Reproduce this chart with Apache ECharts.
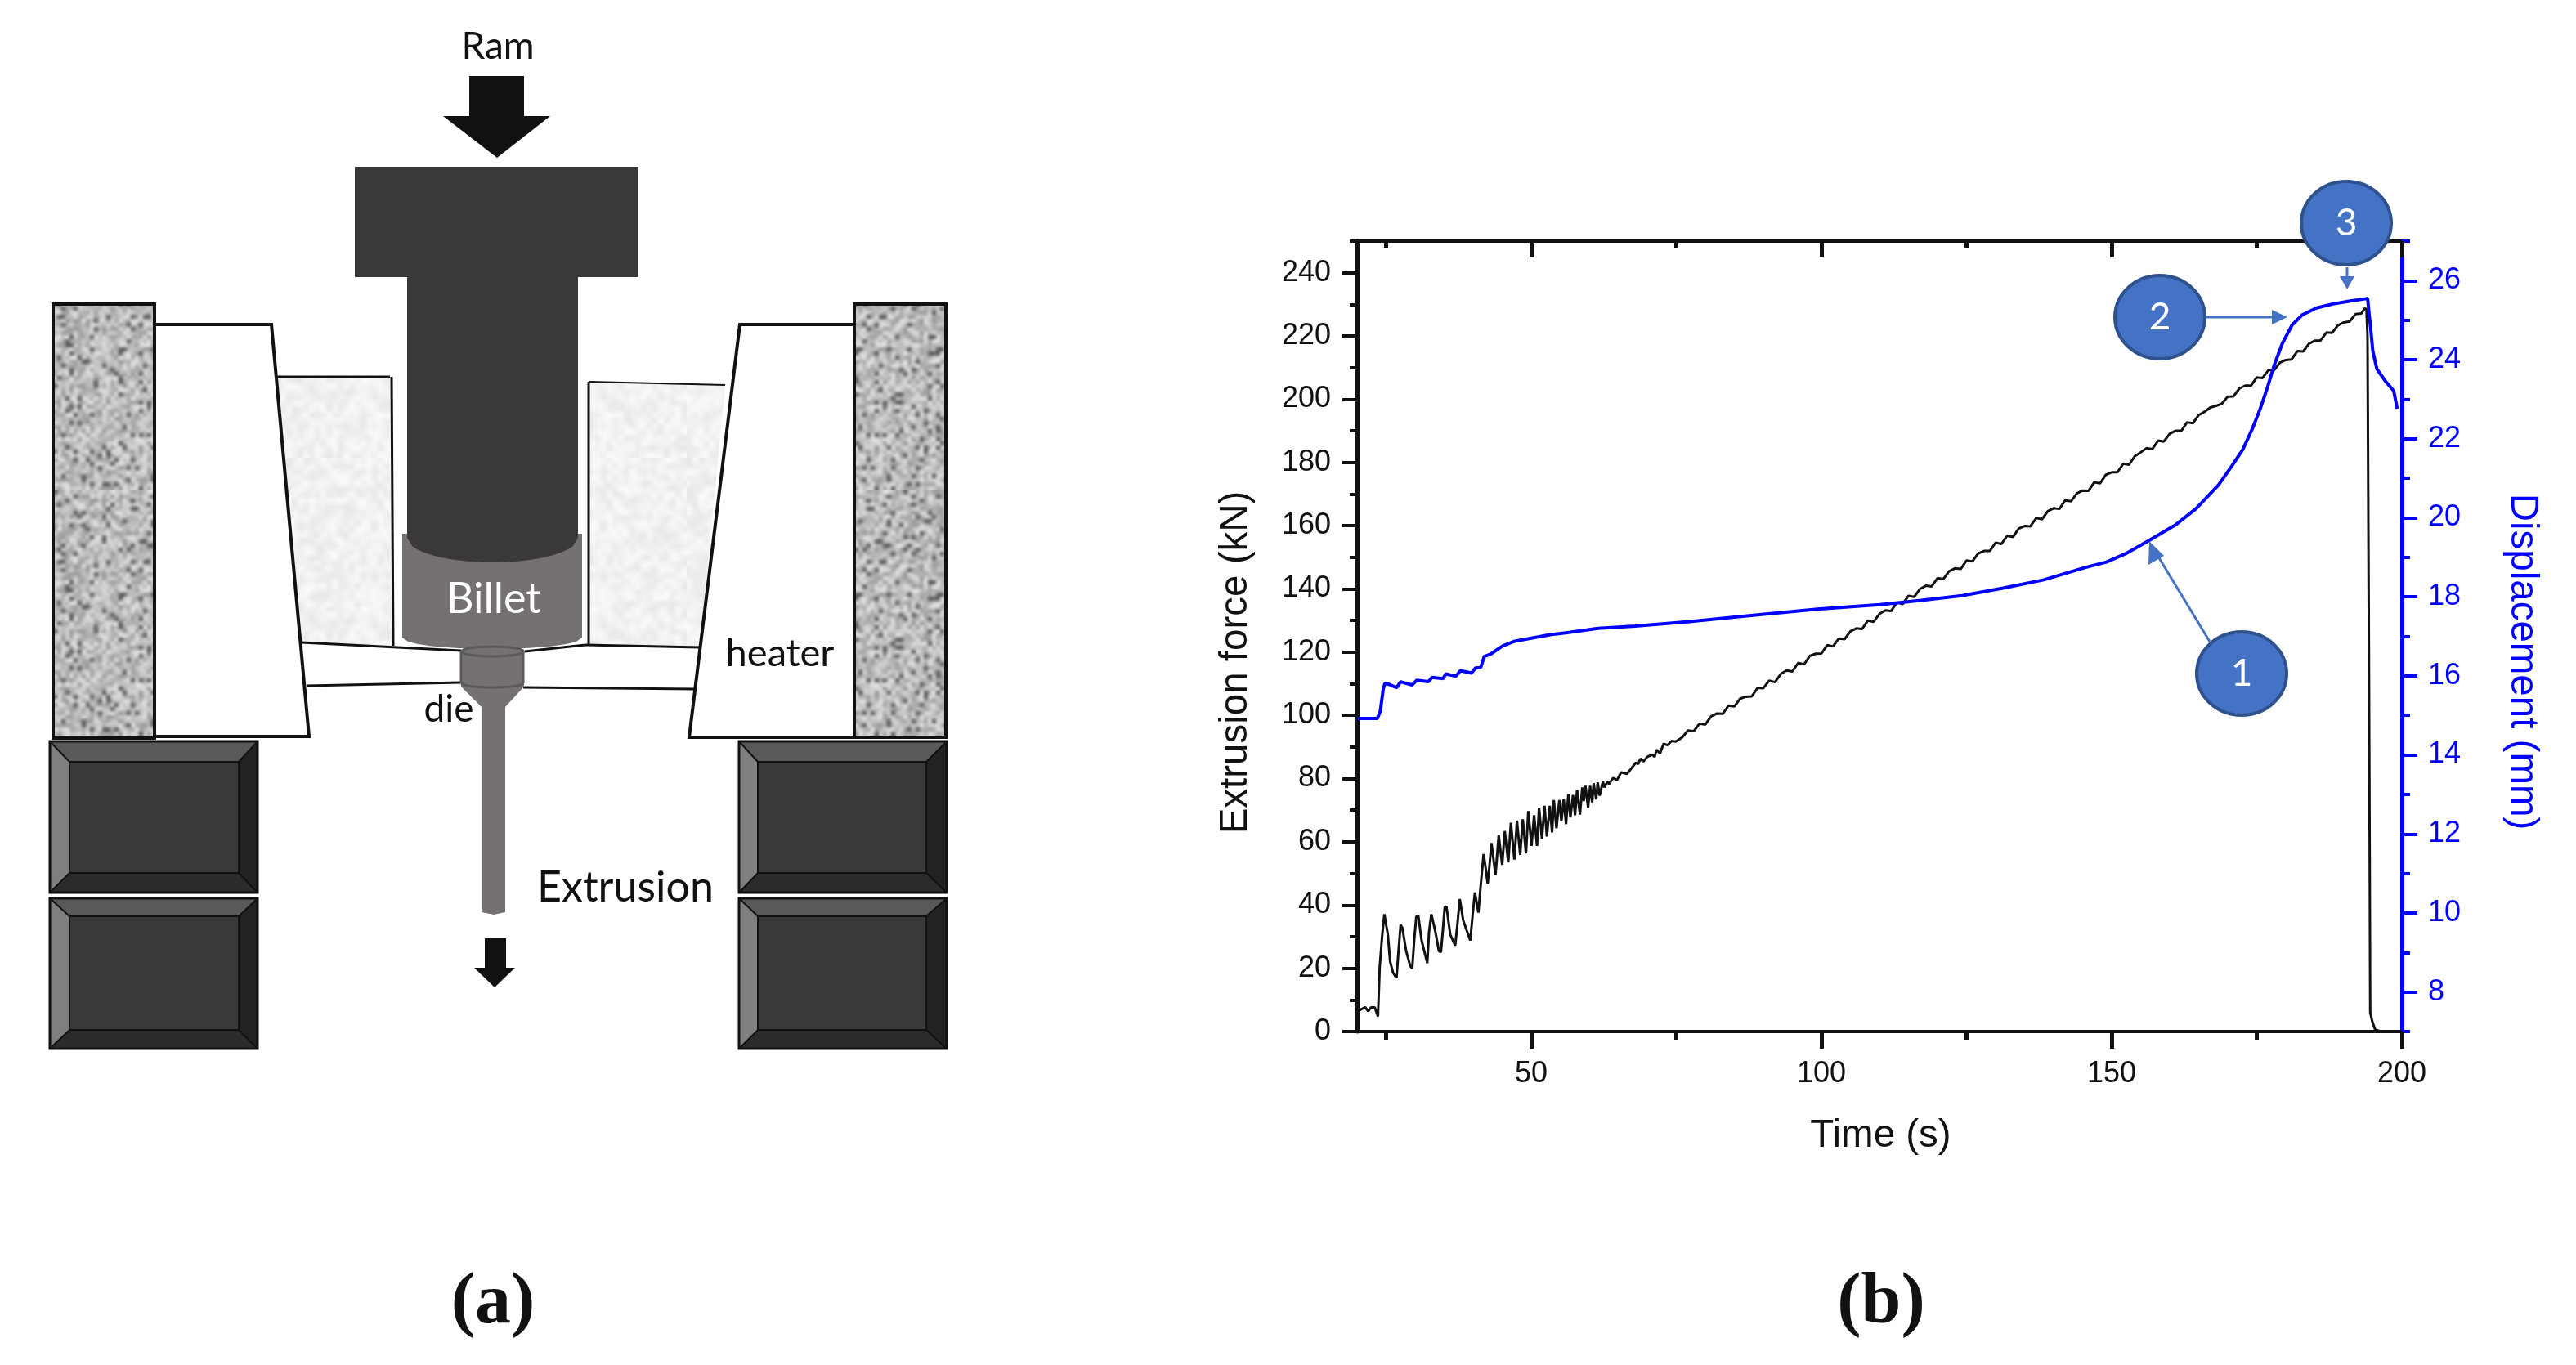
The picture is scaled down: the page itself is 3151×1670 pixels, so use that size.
<!DOCTYPE html>
<html><head><meta charset="utf-8">
<style>html,body{margin:0;padding:0;background:#fff}#c{width:3151px;height:1670px}</style>
<script src="https://cdn.jsdelivr.net/npm/echarts@6/dist/echarts.min.js"></script>
</head><body><div id="c"></div>
<script>
// ---- data ----
const forceTime = [20.2,20.7,21.4,21.9,22.4,23.05,23.6,23.9,24.3,24.7,24.9,25.3,25.7,26.2,26.8,27.1,27.5,27.8,28.45,29.15,29.5,29.85,30.2,30.55,31.1,31.5,32.1,32.4,32.8,33,33.5,34.1,34.45,34.8,35.1,35.4,36.05,36.9,37.3,37.7,37.9,38.3,39.5,39.95,40.3,40.55,40.9,41.3,41.8,42.05,42.5,42.8,43.15,43.3,43.85,44.4,45,45.45,46.05,46.5,47.1,47.55,48.1,48.55,49.1,49.5,50.05,50.5,51,51.35,51.85,52.3,52.7,53.2,53.6,53.9,54.35,54.85,55.2,55.6,56,56.4,56.75,57.2,57.55,57.9,58.4,58.8,59.05,59.35,59.8,60.15,60.5,60.75,61.2,61.45,61.8,62.35,62.6,63.1,63.4,64.1,64.8,65.5,66.5,67.2,67.4,68,68.45,68.8,69.3,70,70.9,71.25,71.6,72.2,72.8,73.5,74.2,74.9,
76,77,78,79,80,81,82,83,84,85,86,87,88,89,90,91,92,93,94,95,96,97,98,99,100,101,102,103,104,105,106,107,108,109,110,111,112,113,114,115,116,117,118,119,120,121,122,123,124,125,126,127,128,129,130,131,132,133,134,135,136,137,138,139,140,141,142,143,144,145,146,147,148,149,150,151,152,153,154,155,156,157,158,159,160,161,162,163,164,165,166,167,168,169,170,171,172,173,174,175,176,177,178,179,180,181,182,183,184,185,186,187,188,189,190,191,192,193,193.6,193.9,194.08,194.3,194.45,194.55,194.9,195.4,196.3];
const forceKN = [6.5,7,7.7,6.4,7.6,7.6,4.8,20.3,29.8,37.1,37.6,30.7,22.1,18.6,16.9,24.6,33.7,32.8,25.5,20.8,19.9,29,36.3,36.7,29,26,21.6,31.5,37.1,37.6,31.5,25.5,25.1,32.4,39.3,39.5,30.7,27.2,34.1,41.9,41.5,35,28.8,37.6,44,44,37.6,46.2,56.1,53.1,46.8,52.2,59.6,59.6,49.5,62.1,52.7,63.4,53.5,66,54.4,66.7,55.9,67.1,56.3,69.7,58.7,68.4,58.7,70.8,61,71.4,61.7,71.4,63,73.2,64.3,73.2,66.5,73.5,65.6,75.1,67.7,74.8,68.4,76.4,68.6,77.2,72.9,77.7,70.8,77.7,72.5,78.5,73.4,78.8,74.6,79.1,77.2,79,78.3,80.2,79.6,82,81.5,83.1,82.6,85,84.6,86.3,85.4,86.9,87.6,86.9,89.1,88,91,90.6,91.9,91.7,
93,95.2,95,97.4,97.1,99.7,100.6,100.5,103.1,102.8,105.3,105.9,106,108.7,108.6,111,110.5,113.1,114.2,113.9,116.6,116.1,118.8,119.5,119.6,122.2,121.8,124.3,124.1,126.6,127.5,127.3,130,129.6,132.1,133.2,133,135.7,135.2,137.8,137.5,140,141,140.8,143.4,143.1,145.6,146.5,146.3,149,148.7,151.2,152,152,154.6,154.2,156.8,156.4,159.1,159.9,159.8,162.4,162,164.6,165.5,165.3,168,167.7,170.2,171.1,171,173.7,173.4,176.1,176.9,176.9,179.6,179.3,182,183.2,184.5,184.2,186.9,186.6,189.1,190,190,192.7,192.4,195,196,197.4,197.9,198.6,200.8,200.9,203.4,204.3,204.3,206.9,206.7,209.2,209.2,211.6,212.4,212.6,215.2,215.1,217.6,218.5,218.6,221.1,221,223.4,224.3,224.6,226.9,227.1,228.7,228.5,220,130.8,59.6,6,3.2,0.6,0.1];
const dispTime = [20.1,23.5,24,24.5,24.8,25.6,26.8,27.5,29.5,30.3,32.3,32.9,34.8,35.3,37.05,37.8,39.7,40.4,41.3,41.9,43,45.1,47,50.2,53.3,56.5,61.5,67.9,77.3,86.8,99.3,110.1,117.2,124.2,131.3,138.3,145.4,149.1,152.4,156.5,161.1,164.6,168.4,170.7,172.6,174.2,175.6,176.8,178,179.4,181.1,182.9,185.3,188.1,190.9,194.1,194.3,194.6,195,195.7,197.2,198.6,199.2];
const dispMM = [14.92,14.92,15.1,15.66,15.81,15.78,15.7,15.85,15.77,15.89,15.85,15.96,15.93,16.05,15.99,16.13,16.07,16.2,16.21,16.49,16.55,16.76,16.87,16.96,17.04,17.1,17.2,17.26,17.37,17.51,17.69,17.8,17.91,18.03,18.22,18.43,18.74,18.88,19.09,19.43,19.83,20.24,20.83,21.31,21.73,22.24,22.76,23.28,23.86,24.41,24.88,25.14,25.31,25.41,25.48,25.55,25.24,24.83,24.21,23.76,23.45,23.21,22.76];
const timeMajor = [50,100,150,200];
const timeMinor = [25,75,125,175];
const forceMajor = [0,20,40,60,80,100,120,140,160,180,200,220,240];
const forceMinor = [10,30,50,70,90,110,130,150,170,190,210,230,250];
const dispMajor = [8,10,12,14,16,18,20,22,24,26];
const dispMinor = [7,9,11,13,15,17,19,21,23,25,27];

// ---- helpers ----
const CHART_FONT = '"Liberation Sans", Arial, sans-serif';
const DIAG_FONT = 'Lato, "Open Sans", sans-serif';
const BLACK = '#111111', BLUE = '#0000ff', CALL = '#4472C4', CALLB = '#2F528F';
const DARK = '#3a3938', MID = '#757170';

function zip(a, b) { return a.map((v, i) => [v, b[i]]); }

// blurred grain for the schematic's granular fills (deterministic hash, not data)
function texture(lo, hi, darkShare, dark, cell, n) {
  const small = document.createElement('canvas');
  small.width = small.height = n;
  const s = small.getContext('2d');
  for (let y = 0; y < n; y++) for (let x = 0; x < n; x++) {
    const h = Math.abs(Math.sin(x * 12.9898 + y * 78.233) * 43758.5453) % 1;
    const v = h < darkShare ? dark : Math.round(lo + (hi - lo) * ((h - darkShare) / (1 - darkShare)));
    s.fillStyle = 'rgb(' + v + ',' + v + ',' + (v + 3) + ')';
    s.fillRect(x, y, 1, 1);
  }
  const cv = document.createElement('canvas');
  cv.width = cv.height = n * cell;
  const g = cv.getContext('2d');
  g.imageSmoothingEnabled = true;
  g.imageSmoothingQuality = 'high';
  g.drawImage(small, 0, 0, n * cell, n * cell);
  return { image: cv, repeat: 'repeat' };
}
const granite = texture(155, 222, 0.08, 100, 5, 60);
const speckle = texture(232, 250, 0, 232, 7, 40);

const g = [];
const rect = (x, y, w, h, fill, stroke, lw) => g.push({ type: 'rect', shape: { x, y, width: w, height: h }, style: { fill, stroke: stroke || 'none', lineWidth: lw || 0 } });
const poly = (points, fill, stroke, lw, z) => g.push({ type: 'polygon', z: z || 0, shape: { points }, style: { fill, stroke: stroke || 'none', lineWidth: lw || 0, lineJoin: 'miter' } });
const line = (x1, y1, x2, y2, stroke, lw, z) => g.push({ type: 'line', z: z || 0, shape: { x1, y1, x2, y2 }, style: { stroke, lineWidth: lw } });
const text = (x, y, t, size, fill, o) => g.push(Object.assign({ type: 'text', x, y, z: 60, style: { text: t, fontSize: size, fontFamily: DIAG_FONT, fill, align: 'center', verticalAlign: 'middle' } }, o || {}));

function curve(x1, x2, yEdge, yMid, n) {
  const out = [];
  for (let i = 0; i <= n; i++) {
    const u = i / n;
    out.push([x1 + (x2 - x1) * u, yEdge + (yMid - yEdge) * Math.sqrt(Math.max(0, 1 - (2 * u - 1) * (2 * u - 1)))]);
  }
  return out;
}

function block(x, y, w, h, ix, iy, iw, ih) {
  poly([[x,y],[ix,iy],[ix,iy+ih],[x,y+h]], '#7f7f7f');
  poly([[x,y],[x+w,y],[ix+iw,iy],[ix,iy]], '#595959');
  poly([[x+w,y],[x+w,y+h],[ix+iw,iy+ih],[ix+iw,iy]], '#222222');
  poly([[x,y+h],[x+w,y+h],[ix+iw,iy+ih],[ix,iy+ih]], '#2b2b2b');
  rect(ix, iy, iw, ih, DARK, '#111', 2);
  rect(x, y, w, h, 'none', '#111', 3);
  line(x, y, ix, iy, '#111', 2); line(x+w, y, ix+iw, iy, '#111', 2);
  line(x, y+h, ix, iy+ih, '#111', 2); line(x+w, y+h, ix+iw, iy+ih, '#111', 2);
}

// ---- panel (a): schematic ----
poly([[574,93],[641,93],[641,142],[673,142],[608,193],[542,142],[574,142]], '#111');
rect(434, 204, 347, 135, DARK);
// containers
poly([[338,461],[477,461],[481,790],[369,788]], speckle);
line(338,461,477,461,'#111',3); line(479,461,481,790,'#111',3);
poly([[720,467],[887,471],[856,791],[720,789]], speckle);
line(720,467,887,471,'#111',2); line(720,467,720,789,'#111',3);
// heaters and columns
rect(65, 372, 124, 531, granite, '#111', 4);
rect(1045, 372, 112, 530, granite, '#111', 4);
poly([[189,397],[332,397],[378,901],[189,901]], '#fff', '#111', 4);
poly([[905,397],[1045,397],[1045,902],[843,902]], '#fff', '#111', 4);
// lower plates
line(369,786,564,796,'#111',3); line(375,839,564,835,'#111',3);
line(642,797,716,789,'#111',3); line(716,789,856,792,'#111',3); line(640,841,850,843,'#111',3);
// billet and ram stem
poly([[492,653],[712,653],[712,780]].concat(curve(712,492,780,794,32)), MID);
poly([[498,339],[707,339],[707,650]].concat(curve(707,498,658,688,32)).concat([[498,650]]), DARK);
// die, rod
poly([[564,797],[641,797],[641,840],[618,865],[618,1116],[604,1119],[589,1116],[589,865],[564,840]], MID);
g.push({ type:'ellipse', shape:{cx:602.5,cy:797,rx:38,ry:6}, style:{fill:MID,stroke:'#5a5a5a',lineWidth:3}});
line(564,797,564,836,'#5a5a5a',3); line(640,797,640,836,'#5a5a5a',3);
g.push({ type:'polyline', shape:{points:curve(564,640,836,841,20)}, style:{fill:'none',stroke:'#5a5a5a',lineWidth:3}});
poly([[593,1148],[619,1148],[619,1184],[630,1184],[605,1208],[580,1184],[593,1184]], '#111');
// blocks
block(61,907,254,185, 85,932,207,136);
block(61,1099,254,184, 85,1121,207,139);
block(904,907,254,185, 927,932,206,136);
block(904,1099,254,184, 927,1121,206,139);
// labels of panel (a)
text(609, 57, 'Ram', 46, '#111');
text(604, 733, 'Billet', 52, '#fff');
text(549, 868, 'die', 46, '#111');
text(954, 800, 'heater', 47, '#111');
text(765, 1086, 'Extrusion', 52, '#111');
text(781, 634, 'container', 46, '#111', { rotation: Math.PI / 2, originX: 781, originY: 634 });
const bigLabel = { fontFamily: '"Liberation Serif", serif', fontWeight: 'bold' };
g.push({ type:'text', x:603, y:1595, z:60, style:Object.assign({ text:'(a)', fontSize:88, fill:'#111', align:'center', verticalAlign:'middle' }, bigLabel) });
g.push({ type:'text', x:2301, y:1595, z:60, style:Object.assign({ text:'(b)', fontSize:88, fill:'#111', align:'center', verticalAlign:'middle' }, bigLabel) });

// ---- panel (b): call-outs ----
function callout(cx, cy, t) {
  g.push({ type:'ellipse', z:50, shape:{cx,cy,rx:55,ry:51}, style:{fill:CALL,stroke:CALLB,lineWidth:4}});
  text(cx, cy, t, 46, '#fff');
}
line(2703,785,2637,676,CALL,3,50);
poly([[2629,662],[2628,691],[2647,680]], CALL, null, 0, 50);
line(2698,388,2782,388,CALL,3,50);
poly([[2798,388],[2779,379],[2779,397]], CALL, null, 0, 50);
line(2871,327,2871,340,CALL,3,50);
poly([[2871,354],[2862,338],[2880,338]], CALL, null, 0, 50);
callout(2742, 824, '1');
callout(2642, 388, '2');
callout(2870, 273, '3');

// ---- axes ----
const base = { splitLine:{show:false}, axisLine:{show:false, onZero:false}, axisLabel:{show:false} };
function xAx(pos, vals, len, inside, lineOn, labels, extra) {
  return Object.assign({}, base, {
    type:'value', position:pos, min:20, max:200,
    axisLine:{show:lineOn, onZero:false, lineStyle:{color:BLACK,width:4}},
    axisTick:{show:true, inside, length:len, customValues:vals, lineStyle:{color:BLACK,width:5}},
    axisLabel: labels ? {show:true, customValues:vals, margin:34, fontSize:36, fontFamily:CHART_FONT, color:BLACK} : {show:false}
  }, extra || {});
}
function yAx(pos, min, max, vals, len, color, lineOn, labels, extra) {
  return Object.assign({}, base, {
    type:'value', position:pos, min, max,
    axisLine:{show:lineOn, onZero:false, lineStyle:{color,width:5}},
    axisTick:{show:true, length:len, customValues:vals, lineStyle:{color,width:4}},
    axisLabel: labels ? {show:true, customValues:vals, margin:32, fontSize:36, fontFamily:CHART_FONT, color} : {show:false}
  }, extra || {});
}
const nameFont = { fontSize:47.5, fontFamily:CHART_FONT };

const chart = echarts.init(document.getElementById('c'), null, { renderer:'canvas', width:3151, height:1670 });
chart.setOption({
  animation:false,
  backgroundColor:'#fff',
  grid:{ left:1660, top:295, width:1278, height:967, containLabel:false },
  xAxis:[
    xAx('bottom', timeMajor, 21, false, true, true, { name:'Time (s)', nameLocation:'middle', nameGap:104, nameMoveOverlap:false, nameTextStyle:Object.assign({color:BLACK, padding:[0,0,0,3]}, nameFont) }),
    xAx('bottom', timeMinor, 10, false, false, false),
    xAx('top', timeMajor, 20, true, true, false),
    xAx('top', timeMinor, 9, true, false, false)
  ],
  yAxis:[
    yAx('left', 0, 250, forceMajor, 18, BLACK, true, true, { name:'Extrusion force (kN)', nameLocation:'middle', nameGap:124, nameRotate:90, nameMoveOverlap:false, nameTextStyle:Object.assign({color:BLACK, padding:[0,64,0,0]}, nameFont) }),
    yAx('left', 0, 250, forceMinor, 9, BLACK, false, false),
    yAx('right', 7, 27, dispMajor, 19, BLUE, true, true, { name:'Displacement (mm)', nameLocation:'middle', nameGap:123, nameRotate:-90, nameMoveOverlap:false, nameTextStyle:Object.assign({color:BLUE, padding:[0,0,0,62]}, nameFont) }),
    yAx('right', 7, 27, dispMinor, 10, BLUE, false, false)
  ],
  series:[
    { name:'Extrusion force', type:'line', xAxisIndex:0, yAxisIndex:0, data:zip(forceTime, forceKN), showSymbol:false, lineStyle:{color:BLACK,width:3}, z:3, clip:false },
    { name:'Displacement', type:'line', xAxisIndex:0, yAxisIndex:2, data:zip(dispTime, dispMM), showSymbol:false, lineStyle:{color:BLUE,width:4}, z:4 }
  ],
  graphic:{ elements:g }
});
</script></body></html>
